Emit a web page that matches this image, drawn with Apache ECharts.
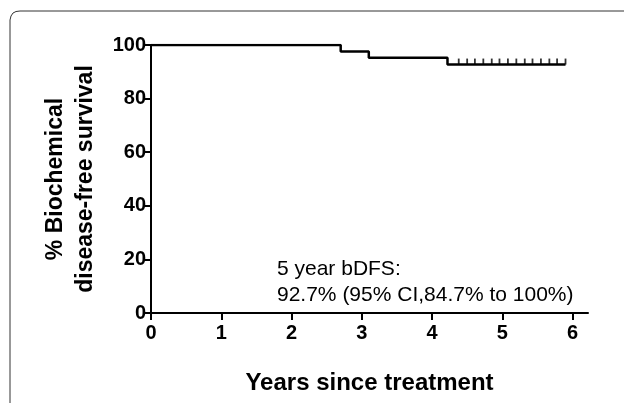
<!DOCTYPE html>
<html><head><meta charset="utf-8">
<script src="https://cdn.jsdelivr.net/npm/echarts@6/dist/echarts.min.js"></script>
<style>html,body{margin:0;background:#fff}#c{width:624px;height:403px}</style>
</head><body><div id="c"></div>
<script>
var stepTimes = [0, 2.7, 3.1, 4.22, 5.9];
var stepSurv = [100, 97.6, 95.2, 92.7, 92.7];
var censorTimes = [4.38, 4.5, 4.61, 4.73, 4.85, 4.96, 5.08, 5.2, 5.32, 5.43, 5.55, 5.67, 5.78, 5.9];
var censorSurv = 92.7;
var xTicks = [0, 1, 2, 3, 4, 5, 6];

var curve = stepTimes.map(function (t, i) { return [t, stepSurv[i]]; });
var censors = censorTimes.map(function (t) { return [t, censorSurv]; });

var chart = echarts.init(document.getElementById('c'));
var font = 'Arial, "Liberation Sans", sans-serif';
chart.setOption({
	animation: false,
	grid: {left: 151, right: 36, top: 45, bottom: 90},
	xAxis: {
		type: 'value', min: 0, max: 6.22,
		splitLine: {show: false},
		axisLine: {onZero: false, lineStyle: {color: '#000', width: 2}},
		axisTick: {customValues: xTicks, length: 7, lineStyle: {color: '#000', width: 2}},
		axisLabel: {customValues: xTicks, color: '#000', fontSize: 20, fontWeight: 'bold', fontFamily: font, margin: 10},
		name: 'Years since treatment', nameLocation: 'middle', nameGap: 58,
		nameTextStyle: {color: '#000', fontSize: 24, fontWeight: 'bold', fontFamily: font}
	},
	yAxis: {
		type: 'value', min: 0, max: 100, interval: 20,
		splitLine: {show: false},
		axisLine: {show: true, lineStyle: {color: '#000', width: 2}},
		axisTick: {show: true, length: 7, lineStyle: {color: '#000', width: 2}},
		axisLabel: {color: '#000', fontSize: 20, fontWeight: 'bold', fontFamily: font, margin: 5},
		name: '% Biochemical\ndisease-free survival', nameLocation: 'middle', nameGap: 50,
		nameTextStyle: {color: '#000', fontSize: 23, fontWeight: 'bold', fontFamily: font, lineHeight: 30}
	},
	series: [
		{type: 'line', step: 'end', data: curve, symbol: 'none', lineStyle: {color: '#000', width: 2.5}},
		{type: 'scatter', data: censors, symbol: 'rect', symbolSize: [1.8, 6], symbolOffset: [0, -3],
			itemStyle: {color: '#000'}}
	],
	graphic: [
		{type: 'polyline', shape: {points: [[10, 403], [10, 20], [11, 16], [13, 13], [16, 11.5], [20, 11], [624, 11]]},
			style: {fill: null, stroke: '#333', lineWidth: 1}},
		{type: 'text', left: 277, top: 256, style: {text: '5 year bDFS:\n92.7% (95% CI,84.7% to 100%)',
			font: '21px ' + font, fill: '#000', lineHeight: 26}}
	]
});
</script></body></html>
